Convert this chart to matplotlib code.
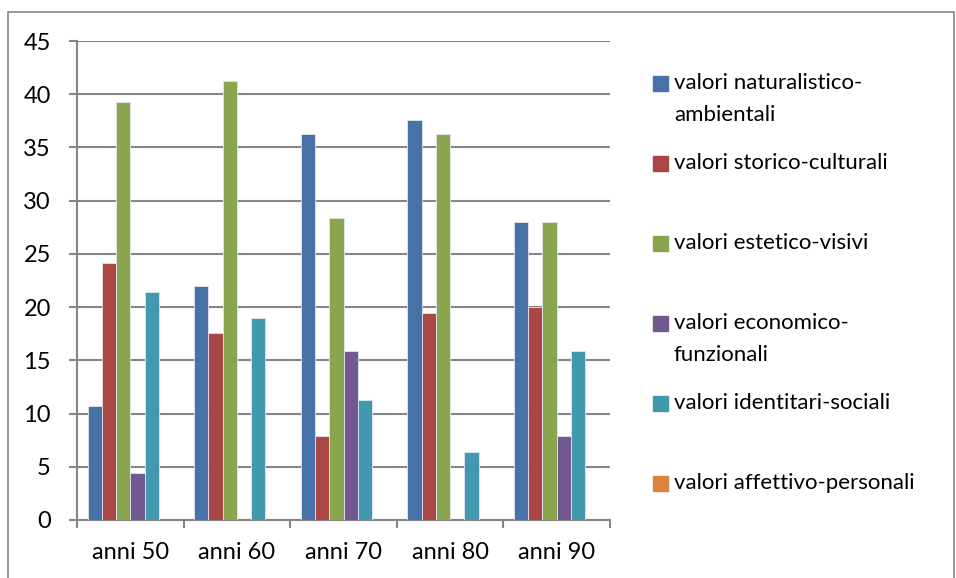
import numpy as np
import matplotlib
matplotlib.use("Agg")
import matplotlib.pyplot as plt
from matplotlib.patches import Rectangle

plt.rcParams['font.family'] = ['Lato', 'DejaVu Sans']

# data
categories = ['anni 50', 'anni 60', 'anni 70', 'anni 80', 'anni 90']
series_names = ['valori naturalistico-\nambientali',
                'valori storico-culturali',
                'valori estetico-visivi',
                'valori economico-\nfunzionali',
                'valori identitari-sociali',
                'valori affettivo-personali']
naturalistico = [10.7, 22.0, 36.3, 37.6, 28.0]
storico = [24.1, 17.6, 7.9, 19.4, 20.0]
estetico = [39.3, 41.2, 28.4, 36.3, 28.0]
economico = [4.4, 0, 15.9, 0, 7.9]
identitari = [21.4, 19.0, 11.3, 6.4, 15.9]
affettivo = [0, 0, 0, 0, 0]
colors = ['#4672A8', '#AA4643', '#89A54E', '#71588F', '#4198AF', '#DB843D']

series = [naturalistico, storico, estetico, economico, identitari, affettivo]
tick_fs = 17
leg_fs = 16
grid_c = '#868686'

fig = plt.figure(figsize=(9.56, 5.78), dpi=100)
# chart frame (bottom edge falls outside the picture)
fig.patches.append(Rectangle((8/956, -0.05), 946/956, 1 - 12/578 + 0.05,
                             transform=fig.transFigure, fill=False,
                             edgecolor=grid_c, linewidth=1.2))
ax = fig.add_axes([77/956, 1-520/578, (610-77)/956, (520-41)/578])

x = np.arange(len(categories))
w = 0.8 / len(series)
for i, (vals, c) in enumerate(zip(series, colors)):
    ax.bar(x - 0.4 + w*(i+0.5), vals, width=w, color=c,
           edgecolor='#dfe6ef', linewidth=0.6, zorder=3)

ax.set_xlim(-0.5, len(categories)-0.5)
ax.set_ylim(0, 45)
ax.set_yticks(np.arange(0, 46, 5))
ax.yaxis.grid(True, color=grid_c, linewidth=1.5, zorder=0)
ax.set_xticks(np.arange(-0.5, len(categories), 1))
ax.set_xticklabels([])
ax.set_xticks(x, minor=True)
ax.set_xticklabels(categories, minor=True)
ax.tick_params(axis='x', which='major', length=5.8, width=1.5, color=grid_c, direction='out')
ax.tick_params(axis='x', which='minor', length=0, pad=16, labelsize=tick_fs)
ax.tick_params(axis='y', length=5.8, width=1.5, color=grid_c, labelsize=tick_fs, pad=13)
for s in ['top', 'right']:
    ax.spines[s].set_visible(False)
for s in ['left', 'bottom']:
    ax.spines[s].set_color(grid_c)
    ax.spines[s].set_linewidth(1.5)

# legend drawn by hand to match the spacing
for i, (name, c) in enumerate(zip(series_names, colors)):
    yc = 1 - (83 + 80*i)/578
    fig.patches.append(Rectangle((653/956, yc - 7.5/578), 15/956, 15/578,
                                 transform=fig.transFigure, color=c))
    fig.text(674/956, yc + 10/578, name, fontsize=leg_fs, va='top', ha='left',
             linespacing=1.78)

fig.savefig('out.png', dpi=100)
